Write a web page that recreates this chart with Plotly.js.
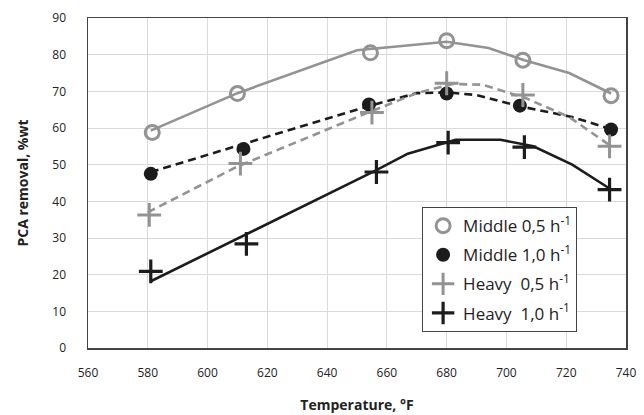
<!DOCTYPE html>
<html>
<head>
<meta charset="utf-8">
<script src="https://cdn.plot.ly/plotly-3.0.1.min.js"></script>
<style>
  html, body { margin: 0; padding: 0; background: #fff; }
  #chart { width: 644px; height: 415px; }
</style>
</head>
<body>
<div id="chart"></div>
<script>
// Measured PCA removal (%wt) versus reactor temperature (°F)
const tempMiddle05 = [581.5, 610, 654.5, 680, 705.5, 735];
const middle05 = [58.8, 69.4, 80.5, 83.8, 78.5, 68.8];

const tempMiddle10 = [581, 612, 654, 680, 704.5, 735];
const middle10 = [47.5, 54.3, 66.4, 69.4, 66.1, 59.6];

const tempHeavy05 = [580.5, 611, 655, 680, 705.5, 734.5];
const heavy05 = [36.3, 50.3, 64.2, 72.2, 69.0, 55.0];

const tempHeavy10 = [581, 613, 656.5, 680.5, 706, 734.5];
const heavy10 = [20.9, 28.4, 48.0, 56.0, 54.8, 43.2];

// Model curves drawn through the measurements
const fitTempMiddle05 = [581, 610, 650, 680, 694, 706, 721, 735];
const fitMiddle05 = [59.3, 69.5, 81.2, 83.5, 81.8, 78.5, 75.0, 69.4];

const fitTempMiddle10 = [581, 654, 670, 680, 690, 704, 722, 735];
const fitMiddle10 = [48.0, 66.0, 69.5, 69.7, 69.0, 66.0, 63.0, 59.7];

const fitTempHeavy05 = [580, 610, 654, 670, 682, 692, 706, 721, 734];
const fitHeavy05 = [37.0, 49.5, 64.3, 69.5, 72.0, 71.8, 68.3, 63.0, 55.6];

const fitTempHeavy10 = [581, 656, 667, 683, 698, 709, 722, 734.5];
const fitHeavy10 = [18.2, 48.3, 53.0, 56.8, 56.8, 55.0, 50.0, 43.5];

const seriesNames = [
  'Middle 0,5 h<sup>-1</sup>',
  'Middle 1,0 h<sup>-1</sup>',
  'Heavy  0,5 h<sup>-1</sup>',
  'Heavy  1,0 h<sup>-1</sup>'
];

const GRAY = '#939393';
const BLACK = '#1c1c1c';
const FONT = 'Open Sans, sans-serif';

function fitLine(x, y, color, dash) {
  return {
    x: x, y: y, type: 'scatter', mode: 'lines',
    line: { color: color, width: 2.6, dash: dash },
    showlegend: false, hoverinfo: 'skip'
  };
}

const traces = [
  fitLine(fitTempMiddle05, fitMiddle05, GRAY, 'solid'),
  fitLine(fitTempMiddle10, fitMiddle10, BLACK, '8px,5px'),
  fitLine(fitTempHeavy05, fitHeavy05, GRAY, '8px,5px'),
  fitLine(fitTempHeavy10, fitHeavy10, BLACK, 'solid'),
  {
    x: tempMiddle05, y: middle05, type: 'scatter', mode: 'markers', name: seriesNames[0],
    legendgroup: 'g1',
    marker: { symbol: 'circle-open', size: 14, color: GRAY, line: { color: GRAY, width: 3 } }
  },
  {
    x: tempMiddle10, y: middle10, type: 'scatter', mode: 'markers', name: seriesNames[1],
    legendgroup: 'g2',
    marker: { symbol: 'circle', size: 14, color: BLACK, line: { width: 0 } }
  },
  {
    x: tempHeavy05, y: heavy05, type: 'scatter', mode: 'markers', name: seriesNames[2],
    legendgroup: 'g3',
    marker: { symbol: 'cross-thin-open', size: 17, color: GRAY, line: { color: GRAY, width: 3 } }
  },
  {
    x: tempHeavy10, y: heavy10, type: 'scatter', mode: 'markers', name: seriesNames[3],
    legendgroup: 'g4',
    marker: { symbol: 'cross-thin-open', size: 17, color: BLACK, line: { color: BLACK, width: 3.2 } }
  }
];

const layout = {
  width: 644, height: 415,
  margin: { l: 88, r: 18, t: 18, b: 67 },
  paper_bgcolor: '#fff', plot_bgcolor: '#fff',
  font: { family: FONT, color: '#222', size: 12 },
  xaxis: {
    range: [560, 740], dtick: 20, tick0: 560,
    showgrid: true, gridcolor: '#dadada', gridwidth: 1,
    zeroline: false, showline: true, linecolor: '#444', linewidth: 1.5, mirror: true,
    ticks: '', ticklabelstandoff: 13,
    tickfont: { size: 12, color: '#222', family: FONT },
    title: { text: '<b>Temperature, °F</b>', font: { size: 14, color: '#222', family: FONT }, standoff: 20 }
  },
  yaxis: {
    range: [0, 90], dtick: 10, tick0: 0,
    showgrid: true, gridcolor: '#dadada', gridwidth: 1,
    zeroline: false, showline: true, linecolor: '#444', linewidth: 1.5, mirror: true,
    ticks: '', ticklabelstandoff: 18,
    tickfont: { size: 12, color: '#222', family: FONT },
    title: { text: '<b>PCA removal, %wt</b>', font: { size: 14, color: '#222', family: FONT }, standoff: 20 }
  },
  legend: {
    x: 0.621, y: 0.427, xanchor: 'left', yanchor: 'top',
    bgcolor: '#fff', bordercolor: '#444', borderwidth: 1,
    font: { size: 17, color: '#222', family: FONT },
    tracegroupgap: 4, itemwidth: 30
  },
  showlegend: true
};

Plotly.newPlot('chart', traces, layout, { displayModeBar: false, staticPlot: true });
</script>
</body>
</html>
